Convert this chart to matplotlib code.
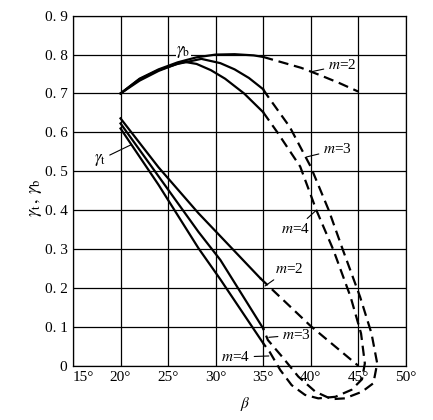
import matplotlib.pyplot as plt

plt.rcParams['font.family'] = ['Liberation Serif', 'DejaVu Serif']
plt.rcParams['mathtext.fontset'] = 'stix'

# gamma_b, solid part
b2_x = [20, 22, 24, 26, 28, 30, 32, 34, 35]
b2_y = [0.700, 0.738, 0.762, 0.780, 0.793, 0.800, 0.801, 0.798, 0.794]
b3_x = [20, 22, 24, 26, 28.5, 30.5, 32, 33.5, 35]
b3_y = [0.700, 0.737, 0.760, 0.776, 0.789, 0.778, 0.762, 0.740, 0.711]
b4_x = [20, 22, 24, 26, 26.8, 28, 29.5, 31, 33, 35]
b4_y = [0.700, 0.733, 0.758, 0.777, 0.781, 0.776, 0.760, 0.738, 0.700, 0.652]

# gamma_b, dashed part
b2d_x = [35, 37, 39, 41, 43, 45]
b2d_y = [0.794, 0.780, 0.766, 0.747, 0.727, 0.705]

# gamma_t, solid part
t2_x = [20, 24, 28.2, 30.5, 34.7]
t2_y = [0.636, 0.510, 0.392, 0.333, 0.225]
t3_x = [20, 24, 28.2, 30.5, 35]
t3_y = [0.623, 0.487, 0.344, 0.272, 0.096]
t4_x = [20, 24, 28.2, 30.5, 35]
t4_y = [0.610, 0.465, 0.302, 0.222, 0.058]

# gamma_t, dashed part
t2d_x = [34.7, 40, 45]
t2d_y = [0.225, 0.102, 0.0]

# dashed loops joining gamma_b (m=3, m=4) to gamma_t (m=3, m=4)
l3_x = [35, 35.4, 37.8, 40, 41.9, 43.4, 45.2, 46.4, 47, 46.6, 45.4, 43.6, 42.2,
        40.5, 38.7, 37, 35.5, 35]
l3_y = [0.711, 0.696, 0.614, 0.512, 0.400, 0.297, 0.177, 0.083, 0.006, -0.045,
        -0.067, -0.084, -0.086, -0.067, -0.028, 0.023, 0.066, 0.096]
l4_x = [35, 36.5, 38.9, 40.6, 42.4, 44.2, 45.3, 45.7, 45.4, 44.3, 42.6, 40.8,
        39.4, 38, 36.8, 35.7, 35]
l4_y = [0.652, 0.600, 0.512, 0.400, 0.297, 0.177, 0.083, 0.006, -0.035, -0.062,
        -0.080, -0.084, -0.075, -0.050, -0.011, 0.035, 0.058]

xticks = [15, 20, 25, 30, 35, 40, 45, 50]
xlabels = ['15°', '20°', '25°', '30°', '35°', '40°', '45°', '50°']
yticks = [0, 0.1, 0.2, 0.3, 0.4, 0.5, 0.6, 0.7, 0.8, 0.9]
ylabels = ['0', '0. 1', '0. 2', '0. 3', '0. 4', '0. 5', '0. 6', '0. 7', '0. 8', '0. 9']


def main():
    fig = plt.figure(figsize=(4.33, 4.20), dpi=100)
    ax = fig.add_axes([0.1686, 0.1293, 0.7684, 0.8333])

    lw = 1.6
    dash = (4.6, 2.6)
    for xs, ys in [(b2_x, b2_y), (b3_x, b3_y), (b4_x, b4_y),
                   (t2_x, t2_y), (t3_x, t3_y), (t4_x, t4_y)]:
        ax.plot(xs, ys, color='black', lw=lw, zorder=3)
    for xs, ys in [(b2d_x, b2d_y), (t2d_x, t2d_y), (l3_x, l3_y), (l4_x, l4_y)]:
        ax.plot(xs, ys, color='black', lw=lw, dashes=dash, clip_on=False, zorder=3)

    ax.set_xlim(15, 50)
    ax.set_ylim(0, 0.9)
    ax.set_xticks(xticks)
    ax.set_xticklabels(xlabels)
    ax.set_yticks(yticks)
    ax.set_yticklabels(ylabels)
    ax.tick_params(length=0, labelsize=11, pad=4)
    ax.get_xticklabels()[0].set_horizontalalignment('left')
    ax.grid(True, color='black', lw=0.9)
    ax.set_axisbelow(True)
    for sp in ax.spines.values():
        sp.set_linewidth(0.9)

    ax.set_ylabel(r'$\gamma_{\rm t}\,,\,\gamma_{\rm b}$', fontsize=13)
    ax.yaxis.set_label_coords(-0.087, 0.48)
    ax.set_xlabel(r'$\beta$', fontsize=11)
    ax.xaxis.set_label_coords(0.517, -0.085)

    fs = 11
    ax.text(26.6, 0.806, r'$\gamma_{\rm b}$', fontsize=12, ha='center', va='center',
            zorder=2.5, bbox=dict(facecolor='white', edgecolor='none', pad=0.3))
    pointer = dict(arrowstyle='-', color='black', lw=0.8, shrinkA=1, shrinkB=0)
    notes = [
        (r'$\gamma_{\rm t}$', (21.1, 0.568), (17.8, 0.529), 12),
        (r'$m$=2', (40.1, 0.756), (43.3, 0.773), fs),
        (r'$m$=3', (39.6, 0.537), (42.8, 0.556), fs),
        (r'$m$=4', (40.6, 0.400), (38.4, 0.351), fs),
        (r'$m$=2', (35.2, 0.205), (37.7, 0.248), fs),
        (r'$m$=3', (35.6, 0.073), (38.5, 0.079), fs),
        (r'$m$=4', (35.6, 0.025), (32.1, 0.022), fs),
    ]
    for txt, xy, xyt, size in notes:
        ax.annotate(txt, xy=xy, xytext=xyt, fontsize=size, ha='center', va='center',
                    arrowprops=pointer)

    plt.savefig('out.png', dpi=100)


if __name__ == "__main__":
    main()
